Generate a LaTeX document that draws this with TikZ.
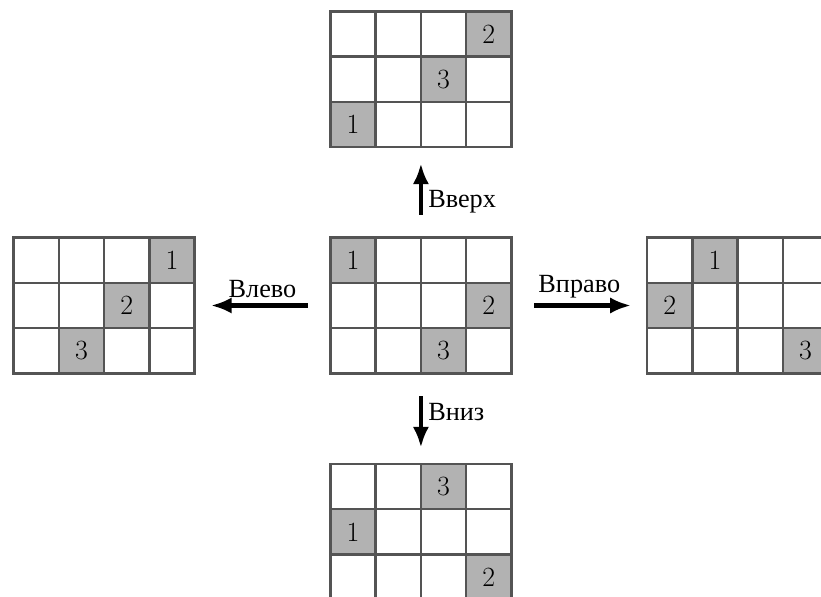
\documentclass[tikz,border=0pt]{standalone}
\usepackage{fontspec}
\newfontfamily\labelfont{Liberation Serif}
\usetikzlibrary{arrows.meta,positioning}

\begin{document}
\begin{tikzpicture}[
  >={Latex[length=4.6mm,width=3.6mm]},
  node distance=2cm and 3cm,
  board/.style={minimum width=4cm,minimum height=3cm,inner sep=0pt,outer sep=0pt},
  cell/.style={fill=black!30,minimum size=1cm,inner sep=0pt,
    font=\fontsize{17.5}{17.5}\selectfont},
  lines/.style={draw=black!67,line width=1.6pt,line cap=rect},
  move/.style={->,line width=2.6pt,shorten <=5mm,shorten >=3.6mm},
  dir/.style={font=\labelfont\fontsize{16.5}{16.5}\selectfont}
]
  \path[use as bounding box,clip] (-9.30,-5.94) rectangle (8.84,7.25);

  \node[board] (start) at (0,0.5) {};
  \node[board,above=of start] (up) {};
  \node[board,below=of start] (down) {};
  \node[board,left=of start] (toleft) {};
  \node[board,right=of start] (toright) {};

  % marked cells: column/row/number
  \foreach \b/\marks in {start/{1/1/1,4/2/2,3/3/3},up/{4/1/2,3/2/3,1/3/1},
      toleft/{4/1/1,3/2/2,2/3/3},toright/{2/1/1,1/2/2,4/3/3},
      down/{3/1/3,1/2/1,4/3/2}}{
    \foreach \c/\r/\n in \marks
      \node[cell] (\b-\n) at ([shift={(\c-0.5,0.5-\r)}]\b.north west) {\n};
    \foreach \i in {0,...,4}
      \draw[lines] ([xshift=\i cm]\b.south west) -- ([xshift=\i cm]\b.north west);
    \foreach \j in {0,...,3}
      \draw[lines] ([yshift=\j cm]\b.south west) -- ([yshift=\j cm]\b.south east);
  }

  \draw[move] (start) -- node[dir,right,pos=0.4] {Вверх} (up);
  \draw[move] (start) -- node[dir,right,pos=0.43] {Вниз} (down);
  \draw[move] (start) -- node[dir,above] {Влево} (toleft);
  \draw[move] (start) -- node[dir,above] {Вправо} (toright);
\end{tikzpicture}
\end{document}
